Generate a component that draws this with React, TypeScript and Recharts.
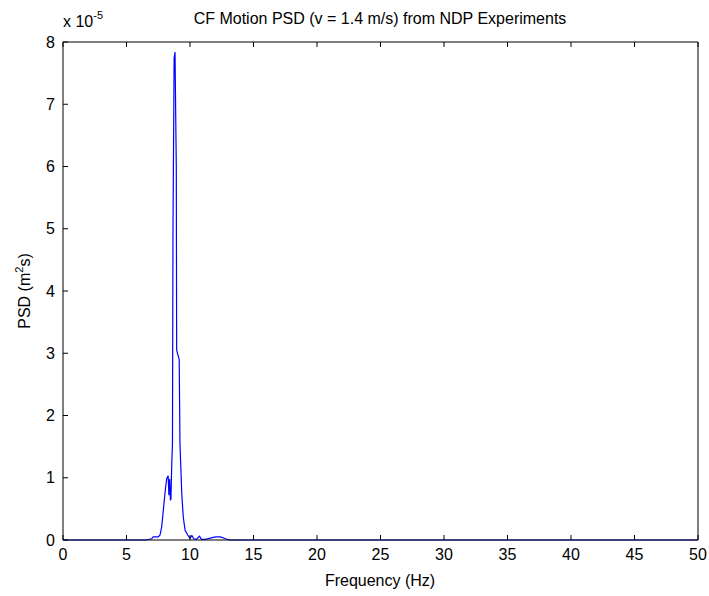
import { LineChart, Line, XAxis, YAxis } from 'recharts';

// frequency in Hz, PSD in units of 1e-5 m^2 s
const freq = [
  0, 6.5, 6.98, 7.1, 7.3, 7.5, 7.64, 7.77, 7.9, 8.03, 8.16, 8.28, 8.34, 8.4, 8.46, 8.5,
  8.56, 8.62, 8.66, 8.75, 8.82, 8.92, 8.95, 9.15, 9.21, 9.35, 9.47, 9.61, 9.82, 10.0,
  10.15, 10.3, 10.5, 10.75, 10.9, 11.2, 11.6, 12.0, 12.4, 12.8, 13.1, 20, 30, 40, 50,
];
const psd = [
  0, 0, 0.02, 0.05, 0.05, 0.05, 0.08, 0.21, 0.48, 0.75, 0.98, 1.03, 0.72, 0.98, 0.64, 0.66,
  1.2, 1.55, 4.95, 7.74, 7.84, 6.0, 3.05, 2.9, 1.55, 0.75, 0.37, 0.16, 0.08, 0.03,
  0.07, 0.02, 0.01, 0.06, 0.01, 0.01, 0.03, 0.05, 0.05, 0.02, 0, 0, 0, 0, 0,
];
const xTicks = [0, 5, 10, 15, 20, 25, 30, 35, 40, 45, 50];
const yTicks = [0, 1, 2, 3, 4, 5, 6, 7, 8];

const data = freq.map((f, i) => ({ f, v: psd[i] }));

const FONT = 'Liberation Sans, Arial, sans-serif';
const tickFont = { fontSize: 16, fontFamily: FONT, fill: '#000' };
const blank = () => '';

export default function App() {
  return (
    <div style={{ position: 'absolute', left: 0, top: 0, background: '#fff' }}>
      <LineChart width={709} height={596} data={data} margin={{ top: 41, right: 10, left: 0, bottom: 0 }}>
        <XAxis
          dataKey="f"
          type="number"
          domain={[0, 50]}
          ticks={xTicks}
          height={56}
          tickSize={-5}
          tickMargin={14}
          tick={tickFont}
          tickLine={{ stroke: '#000' }}
          axisLine={{ stroke: '#000' }}
          interval={0}
        />
        <XAxis
          xAxisId="top"
          dataKey="f"
          type="number"
          orientation="top"
          domain={[0, 50]}
          ticks={xTicks}
          height={1}
          tickSize={-5}
          tickFormatter={blank}
          tickLine={{ stroke: '#000' }}
          axisLine={{ stroke: '#000' }}
          interval={0}
        />
        <YAxis
          type="number"
          domain={[0, 8]}
          ticks={yTicks}
          width={63}
          tickSize={-5}
          tickMargin={13}
          tick={tickFont}
          tickLine={{ stroke: '#000' }}
          axisLine={{ stroke: '#000' }}
          interval={0}
        />
        <YAxis
          yAxisId="right"
          type="number"
          orientation="right"
          domain={[0, 8]}
          ticks={yTicks}
          width={1}
          tickSize={-5}
          tickFormatter={blank}
          tickLine={{ stroke: '#000' }}
          axisLine={{ stroke: '#000' }}
          interval={0}
        />
        <Line
          type="linear"
          dataKey="v"
          stroke="#0000ff"
          strokeWidth={1.2}
          dot={false}
          isAnimationActive={false}
        />
        <text x={380} y={24} textAnchor="middle" fontSize={16} fontFamily={FONT} fill="#000">
          CF Motion PSD (v = 1.4 m/s) from NDP Experiments
        </text>
        <text x={63} y={27} fontSize={16} fontFamily={FONT} fill="#000">
          x 10
          <tspan dy={-8} fontSize={11}>-5</tspan>
        </text>
        <text x={380} y={586} textAnchor="middle" fontSize={16} fontFamily={FONT} fill="#000">
          Frequency (Hz)
        </text>
        <text
          x={30}
          y={291}
          textAnchor="middle"
          fontSize={16}
          fontFamily={FONT}
          fill="#000"
          transform="rotate(-90 30 291)"
        >
          PSD (m
          <tspan dy={-7} fontSize={11}>2</tspan>
          <tspan dy={7}>s)</tspan>
        </text>
      </LineChart>
    </div>
  );
}
